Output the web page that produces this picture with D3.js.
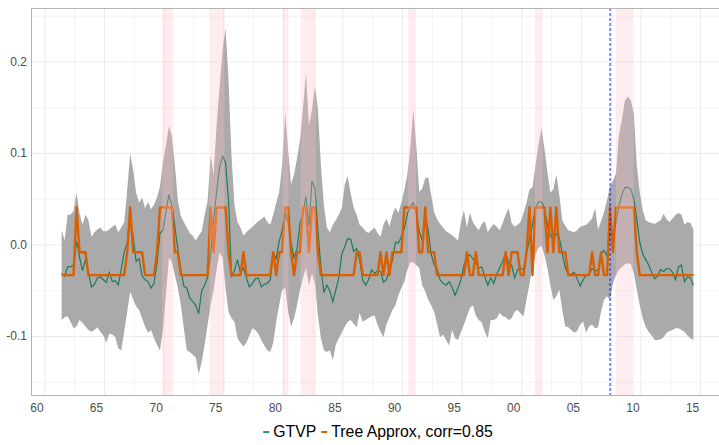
<!DOCTYPE html>
<html>
<head>
<meta charset="utf-8">
<script src="https://cdn.jsdelivr.net/npm/d3@7"></script>
<style>
  html, body { margin: 0; padding: 0; background: #fff; }
  svg { display: block; font-family: "Liberation Sans", Arial, sans-serif; }
</style>
</head>
<body>
<svg id="chart" width="719" height="445"></svg>
<script>
// quarterly series, first observation at 1961.4
const firstQuarter = 1961.4;

const gtvp = [
  -0.031, -0.034, -0.024, -0.024, -0.022, 0.004, -0.013, -0.028, -0.016, -0.030,
  -0.046, -0.043, -0.036, -0.035, -0.038, -0.041, -0.030, -0.040, -0.039, -0.044,
  -0.026, -0.008, 0.002, 0.030, 0.009, -0.018, -0.015, -0.034, -0.038, -0.040,
  -0.047, -0.042, -0.020, 0.013, 0.016, 0.036, 0.055, 0.043, 0.020, -0.005,
  -0.027, -0.045, -0.047, -0.058, -0.062, -0.066, -0.075, -0.050, -0.044, -0.035,
  -0.010, 0.028, 0.058, 0.085, 0.097, 0.090, 0.048, -0.035, -0.028, -0.016,
  -0.030, -0.025, -0.036, -0.046, -0.042, -0.037, -0.036, -0.046, -0.043, -0.042,
  -0.038, -0.009, -0.015, 0.004, 0.016, 0.038, 0.024, 0.002, -0.014, -0.004,
  0.024, 0.035, 0.053, 0.020, 0.070, 0.062, 0.015, -0.024, -0.052, -0.044,
  -0.050, -0.062, -0.049, -0.036, -0.010, -0.002, 0.007, 0.006, -0.007, -0.004,
  -0.016, -0.038, -0.044, -0.038, -0.027, -0.031, -0.028, -0.029, -0.041, -0.038,
  -0.025, -0.017, 0.003, 0.002, 0.009, 0.018, 0.034, 0.042, 0.046, 0.035,
  0.015, 0.005, 0.031, 0.016, -0.010, -0.022, -0.026, -0.038, -0.042, -0.044,
  -0.040, -0.046, -0.055, -0.047, -0.038, -0.022, -0.013, -0.011, -0.015, -0.020,
  -0.025, -0.024, -0.035, -0.044, -0.036, -0.042, -0.032, -0.025, -0.018, -0.009,
  -0.020, -0.022, -0.036, -0.027, -0.025, -0.027, -0.010, 0.007, 0.022, 0.040,
  0.047, 0.047, 0.040, 0.022, 0.010, 0.007, 0.012, 0.008, -0.009, -0.025,
  -0.032, -0.032, -0.030, -0.037, -0.045, -0.038, -0.033, -0.032, -0.026, -0.028,
  -0.028, -0.010, -0.006, -0.012, 0.013, 0.008, 0.025, 0.042, 0.055, 0.063,
  0.063, 0.061, 0.050, 0.028, 0.003, -0.010, -0.016, -0.022, -0.030, -0.037,
  -0.034, -0.027, -0.029, -0.026, -0.026, -0.030, -0.038, -0.024, -0.022, -0.040,
  -0.035, -0.036, -0.044
];

const treeApprox = [
  -0.033, -0.033, -0.033, -0.033, -0.033, 0.041, -0.008, -0.008, -0.008, -0.033,
  -0.033, -0.033, -0.033, -0.033, -0.033, -0.033, -0.033, -0.033, -0.033, -0.033,
  -0.033, -0.033, -0.008, 0.041, -0.008, -0.008, -0.008, -0.008, -0.033, -0.033,
  -0.033, -0.033, -0.008, 0.041, 0.041, 0.041, 0.041, 0.041, -0.008, -0.008,
  -0.033, -0.033, -0.033, -0.033, -0.033, -0.033, -0.033, -0.033, -0.033, -0.033,
  0.041, -0.008, 0.041, 0.041, 0.041, 0.041, -0.008, -0.033, -0.033, -0.033,
  -0.033, -0.008, -0.033, -0.033, -0.033, -0.033, -0.033, -0.033, -0.033, -0.033,
  -0.033, -0.008, -0.033, -0.008, -0.008, 0.041, 0.041, -0.008, -0.033, -0.008,
  -0.008, 0.041, 0.041, -0.008, 0.041, 0.041, -0.008, -0.033, -0.033, -0.033,
  -0.033, -0.033, -0.033, -0.033, -0.033, -0.033, -0.033, -0.033, -0.033, -0.008,
  -0.008, -0.033, -0.033, -0.033, -0.033, -0.033, -0.033, -0.008, -0.033, -0.008,
  -0.033, -0.008, -0.008, -0.008, -0.008, 0.041, 0.041, 0.041, 0.041, 0.041,
  -0.008, -0.008, 0.041, -0.008, -0.008, -0.008, -0.033, -0.033, -0.033, -0.033,
  -0.033, -0.033, -0.033, -0.033, -0.033, -0.033, -0.008, -0.033, -0.033, -0.008,
  -0.033, -0.033, -0.033, -0.033, -0.033, -0.033, -0.033, -0.033, -0.033, -0.008,
  -0.033, -0.008, -0.008, -0.008, -0.033, -0.033, -0.008, 0.041, -0.033, 0.041,
  0.041, 0.041, 0.041, -0.008, 0.041, -0.008, 0.041, -0.008, -0.008, -0.008,
  -0.033, -0.033, -0.033, -0.033, -0.033, -0.033, -0.033, -0.033, -0.008, -0.033,
  -0.033, -0.008, -0.033, -0.033, 0.041, -0.008, 0.041, 0.041, 0.041, 0.041,
  0.041, 0.041, 0.041, -0.008, -0.033, -0.033, -0.033, -0.033, -0.033, -0.033,
  -0.033, -0.033, -0.033, -0.033, -0.033, -0.033, -0.033, -0.033, -0.033, -0.033,
  -0.033, -0.033, -0.033
];

const bandUpper = [
  0.016, 0.005, 0.033, 0.033, 0.037, 0.057, 0.035, 0.022, 0.033, 0.027,
  0.009, 0.014, 0.017, 0.019, 0.015, 0.015, 0.017, 0.020, 0.022, 0.014,
  0.019, 0.025, 0.060, 0.100, 0.082, 0.057, 0.046, 0.052, 0.040, 0.047,
  0.039, 0.044, 0.052, 0.064, 0.090, 0.109, 0.130, 0.119, 0.087, 0.049,
  0.032, 0.025, 0.019, 0.013, 0.010, 0.005, 0.010, 0.015, 0.033, 0.049,
  0.098, 0.077, 0.131, 0.173, 0.213, 0.237, 0.180, 0.098, 0.044, 0.025,
  0.019, 0.010, 0.014, 0.017, 0.020, 0.023, 0.026, 0.028, 0.031, 0.025,
  0.022, 0.033, 0.046, 0.058, 0.087, 0.145, 0.104, 0.066, 0.077, 0.095,
  0.115, 0.150, 0.188, 0.131, 0.148, 0.174, 0.148, 0.087, 0.044, 0.019,
  0.014, 0.022, 0.027, 0.033, 0.040, 0.066, 0.075, 0.056, 0.041, 0.033,
  0.022, 0.019, 0.015, 0.013, 0.016, 0.019, 0.013, 0.009, 0.022, 0.029,
  0.020, 0.033, 0.041, 0.035, 0.046, 0.060, 0.077, 0.106, 0.148, 0.109,
  0.058, 0.062, 0.073, 0.074, 0.055, 0.036, 0.028, 0.023, 0.019, 0.015,
  0.013, 0.011, 0.008, 0.005, 0.025, 0.038, 0.019, 0.035, 0.025, 0.020,
  0.016, 0.023, 0.026, 0.014, 0.019, 0.023, 0.020, 0.016, 0.024, 0.033,
  0.040, 0.024, 0.020, 0.022, 0.025, 0.035, 0.046, 0.061, 0.063, 0.087,
  0.109, 0.128, 0.106, 0.080, 0.057, 0.061, 0.077, 0.055, 0.027, 0.021,
  0.016, 0.015, 0.014, 0.016, 0.020, 0.021, 0.022, 0.025, 0.029, 0.040,
  0.017, 0.026, 0.036, 0.049, 0.064, 0.070, 0.078, 0.120, 0.137, 0.158,
  0.162, 0.158, 0.144, 0.087, 0.058, 0.038, 0.027, 0.025, 0.024, 0.023,
  0.025, 0.027, 0.034, 0.028, 0.025, 0.029, 0.033, 0.035, 0.033, 0.022,
  0.025, 0.024, 0.017
];

const bandLower = [
  -0.082, -0.079, -0.078, -0.084, -0.091, -0.089, -0.082, -0.085, -0.089, -0.093,
  -0.095, -0.093, -0.090, -0.095, -0.099, -0.107, -0.097, -0.098, -0.101, -0.113,
  -0.115, -0.095, -0.073, -0.051, -0.060, -0.067, -0.071, -0.080, -0.089, -0.096,
  -0.093, -0.102, -0.109, -0.115, -0.093, -0.055, -0.014, -0.019, -0.033, -0.047,
  -0.066, -0.091, -0.115, -0.117, -0.120, -0.123, -0.141, -0.128, -0.109, -0.087,
  -0.066, -0.049, -0.027, -0.008, -0.014, -0.047, -0.073, -0.080, -0.084, -0.102,
  -0.107, -0.111, -0.107, -0.099, -0.091, -0.093, -0.097, -0.104, -0.110, -0.115,
  -0.117, -0.107, -0.084, -0.066, -0.049, -0.047, -0.073, -0.089, -0.080, -0.066,
  -0.049, -0.036, -0.025, -0.044, -0.031, -0.042, -0.077, -0.102, -0.115, -0.117,
  -0.115, -0.126, -0.109, -0.102, -0.096, -0.089, -0.084, -0.082, -0.086, -0.090,
  -0.074, -0.084, -0.082, -0.080, -0.078, -0.077, -0.087, -0.095, -0.101, -0.087,
  -0.079, -0.071, -0.066, -0.055, -0.047, -0.040, -0.027, -0.019, -0.019, -0.022,
  -0.025, -0.044, -0.051, -0.060, -0.066, -0.073, -0.087, -0.101, -0.098, -0.104,
  -0.110, -0.093, -0.102, -0.104, -0.095, -0.087, -0.078, -0.069, -0.066, -0.077,
  -0.082, -0.085, -0.095, -0.102, -0.082, -0.082, -0.080, -0.074, -0.078, -0.079,
  -0.082, -0.080, -0.073, -0.071, -0.075, -0.078, -0.060, -0.042, -0.025, -0.011,
  -0.003, -0.001, -0.011, -0.025, -0.044, -0.060, -0.056, -0.049, -0.071, -0.089,
  -0.090, -0.093, -0.096, -0.094, -0.087, -0.084, -0.096, -0.089, -0.087, -0.091,
  -0.090, -0.073, -0.060, -0.056, -0.060, -0.042, -0.033, -0.027, -0.024, -0.021,
  -0.020, -0.021, -0.031, -0.049, -0.066, -0.080, -0.090, -0.095, -0.099, -0.104,
  -0.104, -0.103, -0.101, -0.096, -0.094, -0.093, -0.091, -0.091, -0.093, -0.095,
  -0.099, -0.102, -0.104
];

// shaded recession spells [start, end] in years
const recessions = [
  [1969.83, 1970.75],
  [1973.8, 1975.05],
  [1979.95, 1980.42],
  [1981.45, 1982.74],
  [1990.48, 1991.12],
  [2001.11, 2001.75],
  [2007.9, 2009.39]
];
const breakYear = 2007.42;

const xTickYears = [1960, 1965, 1970, 1975, 1980, 1985, 1990, 1995, 2000, 2005, 2010, 2015];
const xTickLabels = ['60', '65', '70', '75', '80', '85', '90', '95', '00', '05', '10', '15'];
const xMinorYears = [1962.5, 1967.5, 1972.5, 1977.5, 1982.5, 1987.5, 1992.5, 1997.5, 2002.5, 2007.5, 2012.5];
const yTicks = [-0.1, 0.0, 0.1, 0.2];
const yTickLabels = ['-0.1', '0.0', '0.1', '0.2'];
const yMinor = [-0.15, -0.05, 0.05, 0.15, 0.25];
const seriesNames = ['GTVP', 'Tree Approx, corr=0.85'];

const colors = { gtvp: '#1b9e77', gtvpLine: '#207a5c', tree: '#d95f02' };

const svg = d3.select('#chart');
const panel = { left: 31, top: 8, right: 725, bottom: 395 };

const x = d3.scaleLinear()
  .domain([1958.83, 2017.05])
  .range([panel.left, panel.right]);

const y = d3.scaleLinear()
  .domain([-0.164, 0.259])
  .range([panel.bottom, panel.top]);

const rows = gtvp.map((g, i) => ({
  t: firstQuarter + i / 4,
  g,
  tree: treeApprox[i],
  lo: bandLower[i],
  hi: bandUpper[i]
}));

function drawGrid() {
  const grid = svg.append('g');

  grid.selectAll('.vminor').data(xMinorYears).enter().append('line')
    .attr('x1', (d) => x(d)).attr('x2', (d) => x(d))
    .attr('y1', panel.top).attr('y2', panel.bottom)
    .attr('stroke', '#f4f4f4').attr('stroke-width', 1);

  grid.selectAll('.hminor').data(yMinor).enter().append('line')
    .attr('x1', panel.left).attr('x2', panel.right)
    .attr('y1', (d) => y(d)).attr('y2', (d) => y(d))
    .attr('stroke', '#f4f4f4').attr('stroke-width', 1);

  grid.selectAll('.vmajor').data(xTickYears).enter().append('line')
    .attr('x1', (d) => x(d)).attr('x2', (d) => x(d))
    .attr('y1', panel.top).attr('y2', panel.bottom)
    .attr('stroke', '#ebebeb').attr('stroke-width', 1);

  grid.selectAll('.hmajor').data(yTicks).enter().append('line')
    .attr('x1', panel.left).attr('x2', panel.right)
    .attr('y1', (d) => y(d)).attr('y2', (d) => y(d))
    .attr('stroke', '#ebebeb').attr('stroke-width', 1);
}

function drawSeries() {
  const band = d3.area()
    .x((d) => x(d.t))
    .y0((d) => y(d.lo))
    .y1((d) => y(d.hi));

  svg.append('path')
    .datum(rows)
    .attr('d', band)
    .attr('fill', '#aaaaaa');

  svg.append('path')
    .datum(rows)
    .attr('d', d3.line().x((d) => x(d.t)).y((d) => y(d.g)))
    .attr('fill', 'none')
    .attr('stroke', colors.gtvpLine)
    .attr('stroke-width', 1.2);

  svg.append('path')
    .datum(rows)
    .attr('d', d3.line().x((d) => x(d.t)).y((d) => y(d.tree)))
    .attr('fill', 'none')
    .attr('stroke', colors.tree)
    .attr('stroke-width', 2.4)
    .attr('stroke-linejoin', 'round');

  svg.selectAll('.recession').data(recessions).enter().append('rect')
    .attr('x', (d) => x(d[0]))
    .attr('width', (d) => x(d[1]) - x(d[0]))
    .attr('y', panel.top)
    .attr('height', panel.bottom - panel.top)
    .attr('fill', 'pink')
    .attr('fill-opacity', 0.3);

  svg.append('line')
    .attr('x1', x(breakYear)).attr('x2', x(breakYear))
    .attr('y1', panel.top).attr('y2', panel.bottom)
    .attr('stroke', 'blue')
    .attr('stroke-opacity', 0.5)
    .attr('stroke-width', 1.8)
    .attr('stroke-dasharray', '3,2');
}

function drawAxes() {
  svg.append('rect')
    .attr('x', panel.left + 0.5).attr('y', panel.top + 0.5)
    .attr('width', panel.right - panel.left).attr('height', panel.bottom - panel.top)
    .attr('fill', 'none')
    .attr('stroke', '#b3b3b3')
    .attr('stroke-width', 1);

  svg.selectAll('.xlab').data(xTickYears).enter().append('text')
    .attr('x', (d) => x(d) - 8)
    .attr('y', 412)
    .attr('text-anchor', 'middle')
    .attr('font-size', 12)
    .attr('fill', '#4d4d4d')
    .text((d, i) => xTickLabels[i]);

  svg.selectAll('.ylab').data(yTicks).enter().append('text')
    .attr('x', 27)
    .attr('y', (d) => y(d) + 4)
    .attr('text-anchor', 'end')
    .attr('font-size', 12)
    .attr('fill', '#4d4d4d')
    .text((d, i) => yTickLabels[i]);
}

function drawLegend() {
  const keyColors = [colors.gtvp, colors.tree];
  const legend = svg.append('g');
  let cx = 0;

  seriesNames.forEach((name, i) => {
    legend.append('line')
      .attr('x1', cx).attr('x2', cx + 6)
      .attr('y1', -5).attr('y2', -5)
      .attr('stroke', keyColors[i])
      .attr('stroke-width', 2);
    const label = legend.append('text')
      .attr('x', cx + 10)
      .attr('y', 0)
      .attr('font-size', 15.8)
      .attr('fill', '#000')
      .text(name);
    cx += 10 + label.node().getComputedTextLength() + 5;
  });

  const center = (panel.left + panel.right) / 2;
  legend.attr('transform', `translate(${center - (cx - 5) / 2},437)`);
}

drawGrid();
drawSeries();
drawAxes();
drawLegend();
</script>
</body>
</html>
